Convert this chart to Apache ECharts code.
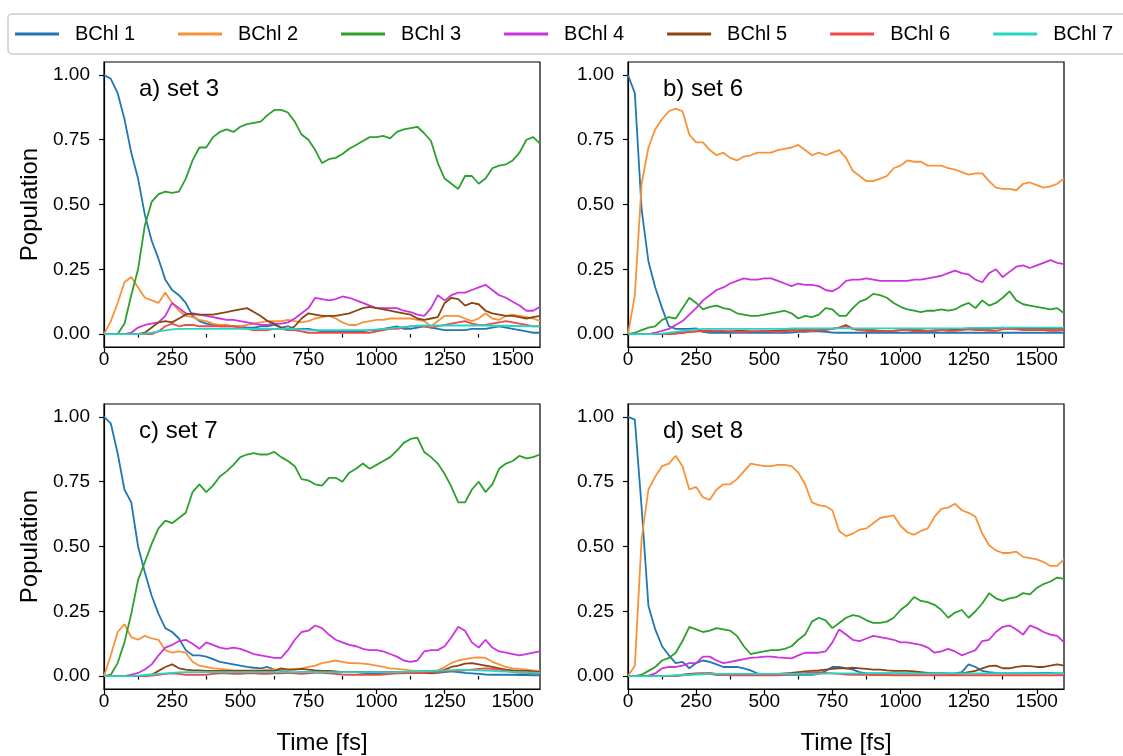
<!DOCTYPE html>
<html><head><meta charset="utf-8">
<script src="https://cdn.jsdelivr.net/npm/echarts@6/dist/echarts.min.js"></script>
<style>html,body{margin:0;padding:0;background:#fff}#c{width:1123px;height:756px}</style>
</head><body><div id="c"></div>
<script>
// ---------- DATA ----------
const time = [0,25,50,75,100,125,150,175,200,225,250,275,300,
  325,350,375,400,425,450,475,500,525,550,575,600,625,
  650,675,700,725,750,775,800,825,850,875,900,925,950,
  975,1000,1025,1050,1075,1100,1125,1150,1175,1200,1225,1250,1275,
  1300,1325,1350,1375,1400,1425,1450,1475,1500,1525,1550,1575,1600];
const seriesNames = ['BChl 1','BChl 2','BChl 3','BChl 4','BChl 5','BChl 6','BChl 7'];
const panelTitles = ['a) set 3','b) set 6','c) set 7','d) set 8'];
const xTicks = [0,250,500,750,1000,1250,1500];
const xMinorTicks = [125,375,625,875,1125,1375];
const yTicks = [0,0.25,0.5,0.75,1];

// panel a) set 3
const a_BChl1 = [1.0,0.985,0.93,0.83,0.7,0.6,0.46,0.36,0.29,0.21,0.17,0.15,0.12,
  0.07,0.05,0.04,0.035,0.03,0.03,0.03,0.03,0.025,0.025,0.03,0.03,0.035,
  0.025,0.03,0.02,0.02,0.02,0.015,0.01,0.01,0.01,0.01,0.01,0.01,0.01,
  0.015,0.015,0.02,0.025,0.03,0.02,0.02,0.025,0.03,0.025,0.02,0.015,0.015,
  0.015,0.015,0.02,0.02,0.02,0.025,0.03,0.025,0.02,0.015,0.01,0.005,0.005];
const a_BChl2 = [0,0.05,0.12,0.2,0.22,0.18,0.14,0.13,0.12,0.16,0.12,0.09,0.07,
  0.065,0.055,0.05,0.04,0.035,0.035,0.03,0.03,0.035,0.04,0.045,0.05,0.05,
  0.05,0.055,0.05,0.045,0.05,0.06,0.065,0.07,0.06,0.045,0.035,0.035,0.045,
  0.05,0.055,0.055,0.06,0.06,0.06,0.06,0.055,0.05,0.03,0.05,0.07,0.07,
  0.07,0.06,0.05,0.06,0.08,0.06,0.055,0.07,0.075,0.07,0.065,0.06,0.05];
const a_BChl3 = [0,0,0,0.04,0.15,0.25,0.42,0.51,0.54,0.55,0.545,0.55,0.6,
  0.67,0.72,0.72,0.76,0.78,0.79,0.78,0.8,0.81,0.815,0.82,0.845,0.865,
  0.865,0.855,0.82,0.77,0.75,0.71,0.66,0.675,0.68,0.695,0.715,0.73,0.745,
  0.76,0.76,0.765,0.755,0.78,0.79,0.795,0.8,0.775,0.745,0.66,0.6,0.58,
  0.56,0.61,0.61,0.58,0.6,0.64,0.65,0.655,0.67,0.7,0.75,0.76,0.735];
const a_BChl4 = [0,0,0,0,0.005,0.025,0.035,0.04,0.045,0.07,0.12,0.1,0.08,
  0.075,0.075,0.07,0.065,0.06,0.055,0.055,0.05,0.045,0.04,0.035,0.035,0.04,
  0.04,0.045,0.06,0.08,0.1,0.14,0.135,0.13,0.135,0.145,0.14,0.13,0.12,
  0.11,0.1,0.1,0.1,0.1,0.09,0.085,0.075,0.07,0.1,0.15,0.13,0.15,
  0.16,0.16,0.17,0.18,0.19,0.17,0.15,0.14,0.125,0.11,0.09,0.09,0.105];
const a_BChl5 = [0,0,0,0,0,0,0.005,0.025,0.045,0.05,0.045,0.06,0.075,
  0.08,0.075,0.075,0.075,0.08,0.085,0.09,0.095,0.1,0.085,0.07,0.05,0.04,
  0.025,0.015,0.03,0.06,0.08,0.075,0.07,0.07,0.07,0.075,0.08,0.09,0.1,
  0.105,0.1,0.095,0.09,0.085,0.08,0.075,0.06,0.055,0.06,0.065,0.12,0.14,
  0.135,0.11,0.12,0.115,0.09,0.08,0.075,0.07,0.07,0.065,0.06,0.065,0.07];
const a_BChl6 = [0,0,0,0,0,0,0,0,0.01,0.03,0.04,0.03,0.035,
  0.035,0.03,0.03,0.03,0.03,0.03,0.03,0.025,0.02,0.015,0.015,0.015,0.02,
  0.02,0.015,0.015,0.01,0.005,0.005,0.005,0.005,0.005,0.005,0.005,0.005,0.005,
  0.005,0.01,0.015,0.02,0.02,0.025,0.03,0.03,0.03,0.025,0.03,0.035,0.04,
  0.045,0.05,0.04,0.035,0.035,0.04,0.045,0.05,0.045,0.04,0.035,0.03,0.03];
const a_BChl7 = [0,0,0,0,0,0,0.002,0.005,0.01,0.014,0.018,0.02,0.02,
  0.02,0.02,0.02,0.02,0.02,0.02,0.02,0.02,0.02,0.02,0.02,0.02,0.02,
  0.02,0.02,0.02,0.018,0.016,0.015,0.015,0.015,0.015,0.015,0.015,0.015,0.015,
  0.015,0.018,0.02,0.022,0.025,0.028,0.03,0.032,0.033,0.033,0.033,0.033,0.033,
  0.033,0.033,0.033,0.033,0.033,0.032,0.032,0.032,0.031,0.031,0.03,0.03,0.03];

// panel b) set 6
const b_BChl1 = [1.0,0.93,0.48,0.28,0.18,0.1,0.03,0.02,0.02,0.02,0.022,0.008,0.005,
  0.005,0.005,0.005,0.005,0.005,0.005,0.005,0.005,0.005,0.005,0.005,0.006,0.008,
  0.008,0.01,0.01,0.008,0.006,0.005,0.005,0.005,0.005,0.005,0.005,0.005,0.005,
  0.005,0.005,0.005,0.005,0.005,0.005,0.005,0.005,0.005,0.005,0.005,0.005,0.005,
  0.005,0.005,0.005,0.005,0.005,0.005,0.005,0.005,0.005,0.005,0.005,0.005,0.005];
const b_BChl2 = [0,0.15,0.58,0.72,0.79,0.83,0.86,0.87,0.86,0.77,0.74,0.74,0.71,
  0.69,0.70,0.68,0.67,0.685,0.69,0.70,0.70,0.70,0.71,0.715,0.72,0.73,
  0.71,0.69,0.70,0.69,0.70,0.71,0.68,0.63,0.61,0.59,0.59,0.60,0.61,
  0.64,0.65,0.67,0.665,0.665,0.65,0.65,0.65,0.64,0.635,0.625,0.615,0.62,
  0.62,0.59,0.565,0.56,0.56,0.555,0.58,0.585,0.575,0.565,0.57,0.58,0.6];
const b_BChl3 = [0,0.005,0.015,0.025,0.03,0.055,0.065,0.06,0.1,0.14,0.12,0.095,0.105,
  0.11,0.1,0.095,0.08,0.075,0.07,0.07,0.075,0.08,0.085,0.09,0.08,0.06,
  0.07,0.065,0.075,0.1,0.095,0.07,0.07,0.1,0.125,0.135,0.155,0.15,0.14,
  0.12,0.105,0.095,0.09,0.085,0.09,0.09,0.095,0.09,0.095,0.11,0.12,0.1,
  0.13,0.11,0.12,0.14,0.165,0.13,0.115,0.11,0.105,0.1,0.095,0.1,0.08];
const b_BChl4 = [0,0,0,0,0.005,0.012,0.02,0.035,0.05,0.075,0.1,0.13,0.15,
  0.17,0.18,0.195,0.205,0.215,0.21,0.21,0.215,0.215,0.205,0.195,0.185,0.195,
  0.19,0.19,0.185,0.17,0.165,0.18,0.205,0.21,0.21,0.215,0.21,0.205,0.205,
  0.205,0.205,0.205,0.21,0.21,0.215,0.22,0.225,0.235,0.245,0.235,0.23,0.21,
  0.2,0.235,0.25,0.22,0.24,0.26,0.265,0.255,0.265,0.275,0.285,0.275,0.27];
const b_BChl5 = [0,0,0,0,0,0,0,0.003,0.005,0.008,0.01,0.012,0.012,
  0.012,0.01,0.01,0.012,0.012,0.01,0.01,0.012,0.012,0.012,0.015,0.015,0.015,
  0.015,0.015,0.015,0.018,0.02,0.025,0.035,0.02,0.015,0.015,0.015,0.012,0.012,
  0.012,0.015,0.015,0.015,0.015,0.012,0.012,0.015,0.015,0.018,0.018,0.02,0.02,
  0.02,0.02,0.022,0.025,0.02,0.02,0.02,0.02,0.02,0.02,0.02,0.02,0.02];
const b_BChl6 = [0,0,0,0,0,0,0,0.002,0.005,0.008,0.01,0.01,0.01,
  0.012,0.012,0.01,0.008,0.008,0.01,0.01,0.012,0.01,0.008,0.01,0.012,0.012,
  0.01,0.012,0.015,0.015,0.02,0.025,0.03,0.02,0.015,0.012,0.01,0.01,0.012,
  0.012,0.015,0.015,0.01,0.01,0.012,0.015,0.015,0.012,0.012,0.015,0.018,0.015,
  0.015,0.012,0.012,0.018,0.02,0.018,0.015,0.015,0.015,0.015,0.012,0.012,0.015];
const b_BChl7 = [0,0,0,0,0,0.002,0.005,0.008,0.012,0.015,0.018,0.02,0.02,
  0.02,0.02,0.02,0.02,0.02,0.02,0.02,0.02,0.02,0.02,0.02,0.022,0.022,
  0.022,0.022,0.022,0.022,0.022,0.022,0.022,0.022,0.022,0.022,0.022,0.022,0.022,
  0.022,0.022,0.022,0.022,0.022,0.022,0.022,0.022,0.022,0.022,0.022,0.024,0.024,
  0.024,0.024,0.025,0.025,0.025,0.025,0.025,0.025,0.025,0.025,0.025,0.025,0.025];

// panel c) set 7
const c_BChl1 = [1.0,0.975,0.86,0.72,0.67,0.5,0.4,0.31,0.24,0.185,0.17,0.145,0.1,
  0.08,0.08,0.075,0.065,0.055,0.05,0.045,0.04,0.035,0.032,0.03,0.035,0.025,
  0.02,0.015,0.012,0.015,0.015,0.015,0.018,0.018,0.015,0.015,0.015,0.015,0.012,
  0.01,0.01,0.012,0.015,0.015,0.015,0.015,0.012,0.012,0.01,0.012,0.015,0.018,
  0.015,0.012,0.01,0.008,0.006,0.005,0.005,0.005,0.005,0.004,0.004,0.003,0.003];
const c_BChl2 = [0,0.08,0.17,0.2,0.15,0.14,0.155,0.145,0.14,0.1,0.09,0.095,0.09,
  0.055,0.04,0.035,0.03,0.028,0.025,0.022,0.022,0.022,0.022,0.022,0.025,0.025,
  0.025,0.025,0.028,0.03,0.035,0.04,0.05,0.055,0.06,0.055,0.05,0.05,0.048,
  0.045,0.04,0.035,0.03,0.028,0.025,0.022,0.02,0.02,0.02,0.022,0.035,0.05,
  0.06,0.065,0.07,0.072,0.07,0.055,0.045,0.035,0.03,0.028,0.025,0.022,0.02];
const c_BChl3 = [0,0.005,0.05,0.13,0.24,0.37,0.44,0.51,0.57,0.6,0.59,0.61,0.63,
  0.71,0.74,0.71,0.735,0.77,0.79,0.815,0.845,0.855,0.86,0.855,0.855,0.865,
  0.845,0.83,0.81,0.76,0.755,0.74,0.735,0.765,0.765,0.75,0.785,0.8,0.82,
  0.8,0.815,0.83,0.845,0.87,0.9,0.915,0.92,0.865,0.845,0.82,0.78,0.73,
  0.67,0.67,0.72,0.75,0.71,0.74,0.8,0.82,0.83,0.85,0.84,0.845,0.855];
const c_BChl4 = [0,0,0,0,0.005,0.012,0.025,0.045,0.08,0.11,0.12,0.135,0.14,
  0.125,0.105,0.13,0.12,0.11,0.105,0.11,0.105,0.095,0.085,0.08,0.075,0.07,
  0.07,0.1,0.14,0.17,0.175,0.195,0.185,0.16,0.14,0.13,0.12,0.115,0.105,
  0.1,0.1,0.095,0.085,0.075,0.06,0.055,0.06,0.095,0.1,0.1,0.115,0.15,
  0.19,0.175,0.13,0.11,0.14,0.11,0.095,0.09,0.085,0.08,0.085,0.09,0.095];
const c_BChl5 = [0,0,0,0,0,0,0.002,0.005,0.02,0.035,0.045,0.03,0.025,
  0.022,0.022,0.02,0.02,0.02,0.02,0.02,0.02,0.02,0.02,0.02,0.02,0.02,
  0.03,0.025,0.025,0.028,0.025,0.022,0.02,0.02,0.018,0.015,0.015,0.015,0.015,
  0.015,0.015,0.015,0.015,0.015,0.012,0.012,0.012,0.012,0.012,0.015,0.025,0.035,
  0.04,0.048,0.05,0.045,0.04,0.035,0.03,0.025,0.022,0.02,0.02,0.018,0.015];
const c_BChl6 = [0,0,0,0,0,0,0,0.002,0.005,0.008,0.01,0.008,0.005,
  0.005,0.005,0.005,0.008,0.01,0.01,0.008,0.008,0.01,0.01,0.008,0.008,0.01,
  0.01,0.012,0.01,0.008,0.01,0.012,0.012,0.01,0.008,0.006,0.005,0.005,0.005,
  0.005,0.005,0.006,0.008,0.01,0.01,0.012,0.012,0.012,0.015,0.015,0.018,0.02,
  0.02,0.022,0.025,0.028,0.03,0.028,0.025,0.02,0.015,0.012,0.012,0.01,0.01];
const c_BChl7 = [0,0,0,0,0,0.002,0.004,0.006,0.008,0.01,0.012,0.014,0.015,
  0.015,0.015,0.015,0.015,0.015,0.015,0.015,0.015,0.015,0.015,0.015,0.015,0.015,
  0.015,0.015,0.015,0.015,0.015,0.015,0.015,0.015,0.015,0.015,0.015,0.015,0.015,
  0.015,0.015,0.015,0.015,0.015,0.016,0.017,0.018,0.019,0.02,0.021,0.022,0.023,
  0.024,0.024,0.023,0.022,0.021,0.02,0.018,0.017,0.016,0.015,0.014,0.013,0.012];

// panel d) set 8
const d_BChl1 = [1.0,0.99,0.65,0.27,0.18,0.115,0.08,0.05,0.055,0.03,0.05,0.06,0.055,
  0.045,0.035,0.035,0.035,0.03,0.022,0.01,0.005,0.005,0.005,0.005,0.005,0.005,
  0.005,0.005,0.008,0.02,0.035,0.035,0.03,0.025,0.015,0.01,0.01,0.01,0.01,
  0.01,0.01,0.01,0.01,0.01,0.01,0.01,0.01,0.01,0.01,0.015,0.045,0.035,
  0.02,0.015,0.012,0.012,0.012,0.012,0.012,0.012,0.012,0.012,0.012,0.01,0.01];
const d_BChl2 = [0,0.04,0.53,0.72,0.77,0.81,0.82,0.85,0.81,0.72,0.73,0.69,0.68,
  0.72,0.74,0.74,0.76,0.79,0.82,0.815,0.81,0.81,0.815,0.815,0.81,0.785,
  0.74,0.67,0.66,0.655,0.64,0.56,0.54,0.55,0.565,0.57,0.59,0.61,0.615,
  0.62,0.58,0.555,0.545,0.56,0.57,0.615,0.645,0.65,0.665,0.64,0.63,0.615,
  0.55,0.505,0.485,0.475,0.475,0.48,0.46,0.455,0.45,0.44,0.425,0.425,0.45];
const d_BChl3 = [0,0,0.005,0.02,0.035,0.06,0.07,0.09,0.135,0.19,0.18,0.17,0.175,
  0.185,0.18,0.175,0.155,0.115,0.085,0.09,0.095,0.1,0.1,0.105,0.115,0.14,
  0.16,0.21,0.225,0.215,0.185,0.205,0.225,0.235,0.23,0.215,0.205,0.205,0.21,
  0.225,0.255,0.275,0.305,0.29,0.285,0.275,0.255,0.225,0.245,0.255,0.225,0.25,
  0.28,0.32,0.3,0.29,0.3,0.305,0.32,0.315,0.34,0.355,0.365,0.38,0.375];
const d_BChl4 = [0,0,0,0.002,0.01,0.03,0.035,0.035,0.04,0.05,0.05,0.075,0.075,
  0.06,0.05,0.055,0.06,0.065,0.07,0.072,0.075,0.075,0.072,0.07,0.068,0.08,
  0.09,0.09,0.09,0.095,0.13,0.18,0.16,0.14,0.135,0.145,0.155,0.15,0.145,
  0.14,0.13,0.13,0.125,0.12,0.11,0.09,0.095,0.105,0.095,0.08,0.09,0.1,
  0.135,0.14,0.17,0.19,0.195,0.18,0.16,0.195,0.185,0.17,0.16,0.155,0.13];
const d_BChl5 = [0,0,0,0,0,0,0,0,0.005,0.008,0.01,0.01,0.008,
  0.005,0.005,0.005,0.005,0.005,0.005,0.005,0.005,0.005,0.008,0.01,0.012,0.015,
  0.018,0.02,0.022,0.025,0.028,0.03,0.03,0.032,0.03,0.028,0.025,0.025,0.022,
  0.02,0.02,0.02,0.018,0.015,0.012,0.01,0.01,0.008,0.008,0.01,0.015,0.02,
  0.03,0.038,0.04,0.03,0.03,0.035,0.038,0.038,0.035,0.035,0.04,0.045,0.04];
const d_BChl6 = [0,0,0,0,0,0,0,0,0.003,0.005,0.008,0.01,0.012,
  0.008,0.005,0.003,0.003,0.003,0.003,0.003,0.003,0.003,0.003,0.005,0.008,0.01,
  0.012,0.015,0.015,0.012,0.01,0.008,0.006,0.005,0.005,0.005,0.004,0.004,0.004,
  0.003,0.003,0.003,0.003,0.003,0.003,0.003,0.003,0.003,0.003,0.003,0.003,0.003,
  0.003,0.003,0.003,0.003,0.003,0.003,0.003,0.003,0.003,0.003,0.003,0.003,0.003];
const d_BChl7 = [0,0,0,0,0,0,0.002,0.003,0.004,0.005,0.006,0.007,0.008,
  0.008,0.008,0.008,0.008,0.008,0.008,0.008,0.008,0.008,0.008,0.008,0.008,0.008,
  0.008,0.008,0.008,0.009,0.01,0.01,0.01,0.01,0.01,0.01,0.01,0.01,0.01,
  0.01,0.01,0.01,0.01,0.01,0.01,0.01,0.01,0.01,0.01,0.01,0.01,0.01,
  0.01,0.01,0.011,0.012,0.012,0.012,0.012,0.011,0.011,0.01,0.01,0.01,0.01];

const panels = [
  [a_BChl1,a_BChl2,a_BChl3,a_BChl4,a_BChl5,a_BChl6,a_BChl7],
  [b_BChl1,b_BChl2,b_BChl3,b_BChl4,b_BChl5,b_BChl6,b_BChl7],
  [c_BChl1,c_BChl2,c_BChl3,c_BChl4,c_BChl5,c_BChl6,c_BChl7],
  [d_BChl1,d_BChl2,d_BChl3,d_BChl4,d_BChl5,d_BChl6,d_BChl7]
];

// ---------- STYLE / LAYOUT ----------
const colors = ['#1f77b4','#f8923a','#2ca02c','#cc33dd','#8b4513','#f04848','#22d8c4'];
const FONT = '"Liberation Sans", Arial, Helvetica, sans-serif';
const gridPos = [
  {left:104, top:62}, {left:628, top:62},
  {left:104, top:404}, {left:628, top:404}
];
const titlePos = [
  {left:139, top:77}, {left:663, top:77},
  {left:139, top:419}, {left:663, top:419}
];

const grids = gridPos.map(g => ({
  left: g.left, top: g.top, width: 436, height: 285,
  show: true, borderColor: '#000', borderWidth: 1.2, backgroundColor: 'transparent',
  containLabel: false
}));

const xAxes = [];
const yAxes = [];
for (let p = 0; p < 4; p++) {
  xAxes.push({
    type: 'value', gridIndex: p, min: 0, max: 1600, position: 'bottom',
    axisLine: {show: true, onZero: false, lineStyle: {color: '#000', width: 1.2}},
    axisTick: {show: true, inside: false, length: 5, customValues: xTicks, lineStyle: {color: '#000', width: 1.2}},
    axisLabel: {show: true, customValues: xTicks, color: '#000', fontSize: 19, fontFamily: FONT, margin: 3,
      formatter: v => String(v)},
    splitLine: {show: false},
    name: p >= 2 ? 'Time [fs]' : '',
    nameLocation: 'middle', nameGap: 42,
    nameTextStyle: {color: '#000', fontSize: 24, fontFamily: FONT}
  });
  yAxes.push({
    type: 'value', gridIndex: p, min: -0.05, max: 1.05,
    axisLine: {show: true, onZero: false, lineStyle: {color: '#000', width: 1.2}},
    axisTick: {show: true, inside: false, length: 5, customValues: yTicks, lineStyle: {color: '#000', width: 1.2}},
    axisLabel: {show: true, customValues: yTicks, color: '#000', fontSize: 19, fontFamily: FONT, margin: 14,
      formatter: v => Number(v).toFixed(2)},
    splitLine: {show: false},
    name: (p % 2 === 0) ? 'Population' : '',
    nameLocation: 'middle', nameGap: 62,
    nameTextStyle: {color: '#000', fontSize: 24, fontFamily: FONT}
  });
}
// minor x ticks
for (let p = 0; p < 4; p++) {
  xAxes.push({
    type: 'value', gridIndex: p, min: 0, max: 1600, position: 'bottom', offset: 0,
    axisLine: {show: false},
    axisTick: {show: true, inside: false, length: 3.5, customValues: xMinorTicks, lineStyle: {color: '#000', width: 1.2}},
    axisLabel: {show: false},
    splitLine: {show: false}
  });
}

const series = [];
panels.forEach((arrs, p) => {
  arrs.forEach((arr, k) => {
    series.push({
      type: 'line', name: seriesNames[k], xAxisIndex: p, yAxisIndex: p,
      data: time.map((t, i) => [t, arr[i]]),
      showSymbol: false, symbol: 'none', silent: true,
      lineStyle: {color: colors[k], width: 1.8},
      itemStyle: {color: colors[k]},
      z: 2 + k * 0.01
    });
  });
});

const titles = panelTitles.map((t, p) => ({
  text: t, left: titlePos[p].left, top: titlePos[p].top, padding: 0,
  textStyle: {fontSize: 24, fontWeight: 'normal', color: '#000', fontFamily: FONT}
}));

const chart = echarts.init(document.getElementById('c'), null, {renderer: 'canvas'});
chart.setOption({
  animation: false,
  backgroundColor: '#fff',
  title: titles,
  legend: {
    data: seriesNames, left: 8, top: 14, width: 1400, orient: 'horizontal',
    padding: [10, 60, 10, 7],
    icon: 'rect', itemWidth: 44, itemHeight: 3, itemGap: 43,
    textStyle: {fontSize: 20, color: '#000', fontFamily: FONT, padding: [0, 0, 0, 11]},
    borderColor: '#cccccc', borderWidth: 1.5, borderRadius: 4,
    selectedMode: false
  },
  grid: grids,
  xAxis: xAxes,
  yAxis: yAxes,
  series: series
});
</script>
</body></html>
